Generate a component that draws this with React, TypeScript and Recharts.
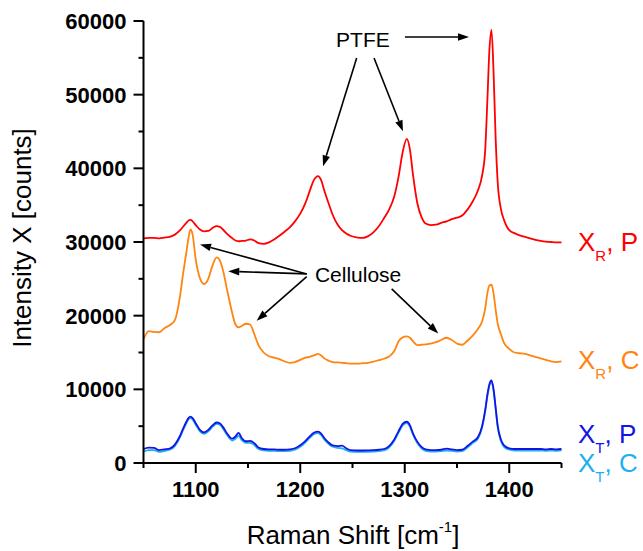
import React from 'react';
import { LineChart, Line, XAxis, YAxis, ReferenceLine, ReferenceDot } from 'recharts';

// ---------- data ----------
const ramanShift = [
  1050, 1055, 1060, 1065, 1070, 1075, 1080, 1085, 1088, 1091,
  1093, 1095, 1097, 1100, 1104, 1108, 1112, 1116, 1120, 1123,
  1126, 1130, 1135, 1138, 1141, 1144, 1148, 1152, 1156, 1160,
  1165, 1170, 1175, 1180, 1185, 1190, 1195, 1200, 1205, 1209,
  1213, 1217, 1220, 1223, 1227, 1231, 1236, 1240, 1244, 1248,
  1255, 1260, 1265, 1270, 1275, 1280, 1285, 1290, 1294, 1298,
  1302, 1305, 1308, 1312, 1316, 1320, 1325, 1330, 1335, 1340,
  1345, 1350, 1355, 1360, 1365, 1370, 1374, 1377, 1379, 1381,
  1383, 1385, 1387, 1389, 1392, 1395, 1400, 1405, 1410, 1415,
  1420, 1425, 1430, 1435, 1440, 1445, 1450,
];

// X_R, P (red)
const xrP = [
  30500, 30550, 30550, 30500, 30600, 30700, 31000, 31600, 32100, 32600,
  32900, 33000, 32800, 32300, 31700, 31450, 31500, 31900, 32150, 32050,
  31700, 31100, 30500, 30200, 30100, 30150, 30200, 30350, 30200, 29850,
  29750, 29950, 30350, 30850, 31400, 32000, 32800, 33850, 35300, 36900,
  38400, 38950, 38400, 37000, 35300, 33700, 32300, 31600, 31150, 30850,
  30600, 30550, 30800, 31300, 32100, 33200, 34400, 36200, 38800, 42200,
  44000, 42500, 39000, 35300, 33400, 32500, 32300, 32350, 32600, 32800,
  33100, 33300, 33600, 34400, 35500, 37000, 39000, 42500, 49000, 56000,
  58800, 53000, 44000, 38000, 34500, 33000, 31600, 31200, 30900, 30700,
  30500, 30300, 30150, 30050, 30000, 29950, 29950,
];

// X_R, C (orange)
const xrC = [
  16800, 17900, 17800, 17750, 18300, 18700, 19400, 22700, 25800, 28600,
  30500, 31700, 31000, 27600, 25100, 24300, 25000, 26800, 27900, 27500,
  26200, 23500, 20300, 18800, 18400, 18600, 18900, 18800, 17500, 16000,
  15000, 14500, 14300, 14100, 13800, 13600, 13700, 14000, 14300, 14400,
  14600, 14800, 14600, 14200, 13900, 13700, 13650, 13600, 13550, 13500,
  13500, 13550, 13600, 13750, 13950, 14150, 14450, 15200, 16500, 17050,
  17200, 17000, 16500, 16000, 16050, 16100, 16200, 16400, 16700, 17000,
  16700, 16200, 16050, 16600, 17300, 18200, 19200, 21000, 23000, 24100,
  24200, 23000, 20800, 18900, 17500, 16300, 15500, 15000, 14900, 14800,
  14600, 14400, 14200, 14000, 13800, 13700, 13800,
];

// X_T, P (blue)
const xtP = [
  1900, 2100, 2050, 1750, 1850, 1950, 2500, 3700, 4700, 5600,
  6100, 6300, 6100, 5400, 4500, 4150, 4500, 5100, 5500, 5400,
  4900, 4000, 3300, 3600, 4100, 3400, 2950, 3000, 2700, 2100,
  1900, 1850, 1850, 1800, 1800, 1850, 2000, 2400, 3000, 3600,
  4100, 4250, 4000, 3400, 2800, 2400, 2300, 2350, 2000, 1750,
  1700, 1700, 1720, 1750, 1800, 1900, 2300, 3200, 4300, 5300,
  5600, 5100, 4000, 2900, 2200, 1850, 1750, 1750, 1800, 1950,
  1850, 1750, 1800, 2300, 2900, 3500, 5000, 7200, 9200, 10700,
  11200, 10000, 7500, 5000, 3200, 2400, 2000, 1900, 1900, 1900,
  1900, 1900, 1900, 1850, 1900, 1850, 1900,
];

// X_T, C (light blue)
const xtC = [
  1550, 1750, 1750, 1500, 1650, 1800, 2300, 3500, 4500, 5400,
  5900, 6100, 5900, 5200, 4300, 3950, 4300, 4900, 5300, 5200,
  4700, 3800, 3050, 3300, 3700, 3100, 2750, 2750, 2450, 1900,
  1700, 1650, 1650, 1600, 1600, 1650, 1800, 2200, 2800, 3400,
  3900, 4050, 3800, 3200, 2600, 2200, 2050, 2000, 1750, 1550,
  1500, 1500, 1520, 1550, 1600, 1700, 2100, 3000, 4100, 5100,
  5400, 4900, 3800, 2700, 2000, 1650, 1550, 1550, 1600, 1700,
  1650, 1550, 1600, 2100, 2700, 3300, 4800, 7000, 9000, 10500,
  11000, 9800, 7300, 4800, 3000, 2200, 1800, 1700, 1700, 1700,
  1700, 1700, 1700, 1650, 1700, 1650, 1700,
];

const xTicks = [1050, 1100, 1150, 1200, 1250, 1300, 1350, 1400, 1450];
const xMajorTicks = [1100, 1200, 1300, 1400];
const yTicks = [0, 5000, 10000, 15000, 20000, 25000, 30000, 35000, 40000, 45000, 50000, 55000, 60000];
const yMajorTicks = [0, 10000, 20000, 30000, 40000, 50000, 60000];

const xTitle = 'Raman Shift [cm';
const yTitle = 'Intensity X [counts]';

// annotation arrows in data coordinates [shift, intensity]
const ptfeLabel = { x: 1260, y: 56500, text: 'PTFE' };
const ptfeArrows = [
  { from: [1254, 54970], to: [1221.8, 40270] },
  { from: [1270.6, 54970], to: [1298.3, 45030] },
  { from: [1300.2, 57820], to: [1361.5, 57820] },
];
const celluloseLabel = { x: 1214, y: 24530, text: 'Cellulose' };
const celluloseArrows = [
  { from: [1206.2, 25670], to: [1104.1, 29660] },
  { from: [1206.2, 25670], to: [1131.1, 26030] },
  { from: [1206.2, 25310], to: [1158.3, 19320] },
  { from: [1287.5, 23630], to: [1332.1, 17590] },
];

const data = ramanShift.map((s, i) => ({
  shift: s,
  xrP: xrP[i],
  xrC: xrC[i],
  xtP: xtP[i],
  xtC: xtC[i],
}));

const series = [
  { key: 'xrP', color: '#ff0000', sub: 'R', suffix: ', P', dy: 9 },
  { key: 'xrC', color: '#ff8410', sub: 'R', suffix: ', C', dy: 7.5 },
  { key: 'xtP', color: '#1414e6', sub: 'T', suffix: ', P', dy: -6 },
  { key: 'xtC', color: '#1cb0ee', sub: 'T', suffix: ', C', dy: 21.5 },
];

const FONT = '"Liberation Sans", Arial, Helvetica, sans-serif';

// ---------- helpers ----------
const XTick = (props: any) => {
  const { x, y, payload } = props;
  const major = xMajorTicks.includes(payload.value);
  return (
    <g>
      <line x1={x} x2={x} y1={y} y2={y + (major ? 10 : 5)} stroke="#000" strokeWidth={2} />
      {major && (
        <text x={x} y={y + 34} textAnchor="middle" fontFamily={FONT} fontWeight="bold" fontSize={22} fill="#000">
          {payload.value}
        </text>
      )}
    </g>
  );
};

const YTick = (props: any) => {
  const { x, y, payload } = props;
  const major = yMajorTicks.includes(payload.value);
  return (
    <g>
      <line x1={x} x2={x - (major ? 10 : 5)} y1={y} y2={y} stroke="#000" strokeWidth={2} />
      {major && (
        <text x={x - 17} y={y + 8} textAnchor="end" fontFamily={FONT} fontWeight="bold" fontSize={22} fill="#000">
          {payload.value}
        </text>
      )}
    </g>
  );
};

const ArrowShape = (props: any) => {
  const { x1, y1, x2, y2 } = props;
  const ang = Math.atan2(y2 - y1, x2 - x1);
  const L = 11;
  const W = 3.8;
  const c = Math.cos(ang);
  const s = Math.sin(ang);
  const bx = x2 - L * c;
  const by = y2 - L * s;
  const pts = `${x2},${y2} ${bx + W * s},${by - W * c} ${bx - W * s},${by + W * c}`;
  return (
    <g>
      <line x1={x1} y1={y1} x2={bx} y2={by} stroke="#000" strokeWidth={1.6} />
      <polygon points={pts} fill="#000" />
    </g>
  );
};

export default function App() {
  return (
    <div style={{ position: 'absolute', left: 0, top: 0, width: 643, height: 551, background: '#fff' }}>
      <LineChart
        width={643}
        height={551}
        data={data}
        margin={{ top: 21, right: 81.5, left: 0, bottom: 0 }}
      >
        <XAxis
          dataKey="shift"
          type="number"
          domain={[1050, 1450]}
          ticks={xTicks}
          tick={<XTick />}
          tickLine={false}
          tickSize={0}
          tickMargin={0}
          height={88}
          axisLine={{ stroke: '#000', strokeWidth: 2 }}
          label={(p: any) => {
            const vb = p.viewBox;
            return (
              <text x={353} y={vb.y + 81} textAnchor="middle" fontFamily={FONT} fontSize={26} fill="#000">
                {xTitle}
                <tspan fontSize={15} dy={-12}>-1</tspan>
                <tspan dy={12}>]</tspan>
              </text>
            );
          }}
        />
        <YAxis
          type="number"
          domain={[0, 60000]}
          ticks={yTicks}
          tick={<YTick />}
          tickLine={false}
          tickSize={0}
          tickMargin={0}
          width={143.5}
          axisLine={{ stroke: '#000', strokeWidth: 2 }}
          label={(p: any) => {
            const vb = p.viewBox;
            return (
              <text
                transform={`translate(${vb.x + 31},${vb.y + vb.height / 2 - 4}) rotate(-90)`}
                textAnchor="middle"
                fontFamily={FONT}
                fontSize={26}
                fill="#000"
              >
                {yTitle}
              </text>
            );
          }}
        />
        {[...series].reverse().map((s) => (
          <Line
            key={s.key}
            dataKey={s.key}
            type="monotone"
            stroke={s.color}
            strokeWidth={1.8}
            dot={false}
            activeDot={false}
            isAnimationActive={false}
          />
        ))}
        {[...ptfeArrows, ...celluloseArrows].map((a, i) => (
          <ReferenceLine
            key={'arr' + i}
            segment={[{ x: a.from[0], y: a.from[1] }, { x: a.to[0], y: a.to[1] }]}
            ifOverflow="visible"
            shape={ArrowShape}
          />
        ))}
        <ReferenceDot
          x={ptfeLabel.x}
          y={ptfeLabel.y}
          ifOverflow="visible"
          shape={(p: any) => (
            <text x={p.cx} y={p.cy} textAnchor="middle" fontFamily={FONT} fontSize={21} fill="#000">
              {ptfeLabel.text}
            </text>
          )}
        />
        <ReferenceDot
          x={celluloseLabel.x}
          y={celluloseLabel.y}
          ifOverflow="visible"
          shape={(p: any) => (
            <text x={p.cx} y={p.cy} textAnchor="start" fontFamily={FONT} fontSize={21} fill="#000">
              {celluloseLabel.text}
            </text>
          )}
        />
        {series.map((s) => (
          <ReferenceDot
            key={'lab' + s.key}
            x={ramanShift[ramanShift.length - 1]}
            y={(data[data.length - 1] as any)[s.key]}
            ifOverflow="visible"
            shape={(p: any) => (
              <text x={p.cx + 16.5} y={p.cy + s.dy} fontFamily={FONT} fontSize={26} fill={s.color}>
                X
                <tspan fontSize={15} dy={10}>{s.sub}</tspan>
                <tspan dy={-10}>{s.suffix}</tspan>
              </text>
            )}
          />
        ))}
      </LineChart>
    </div>
  );
}
